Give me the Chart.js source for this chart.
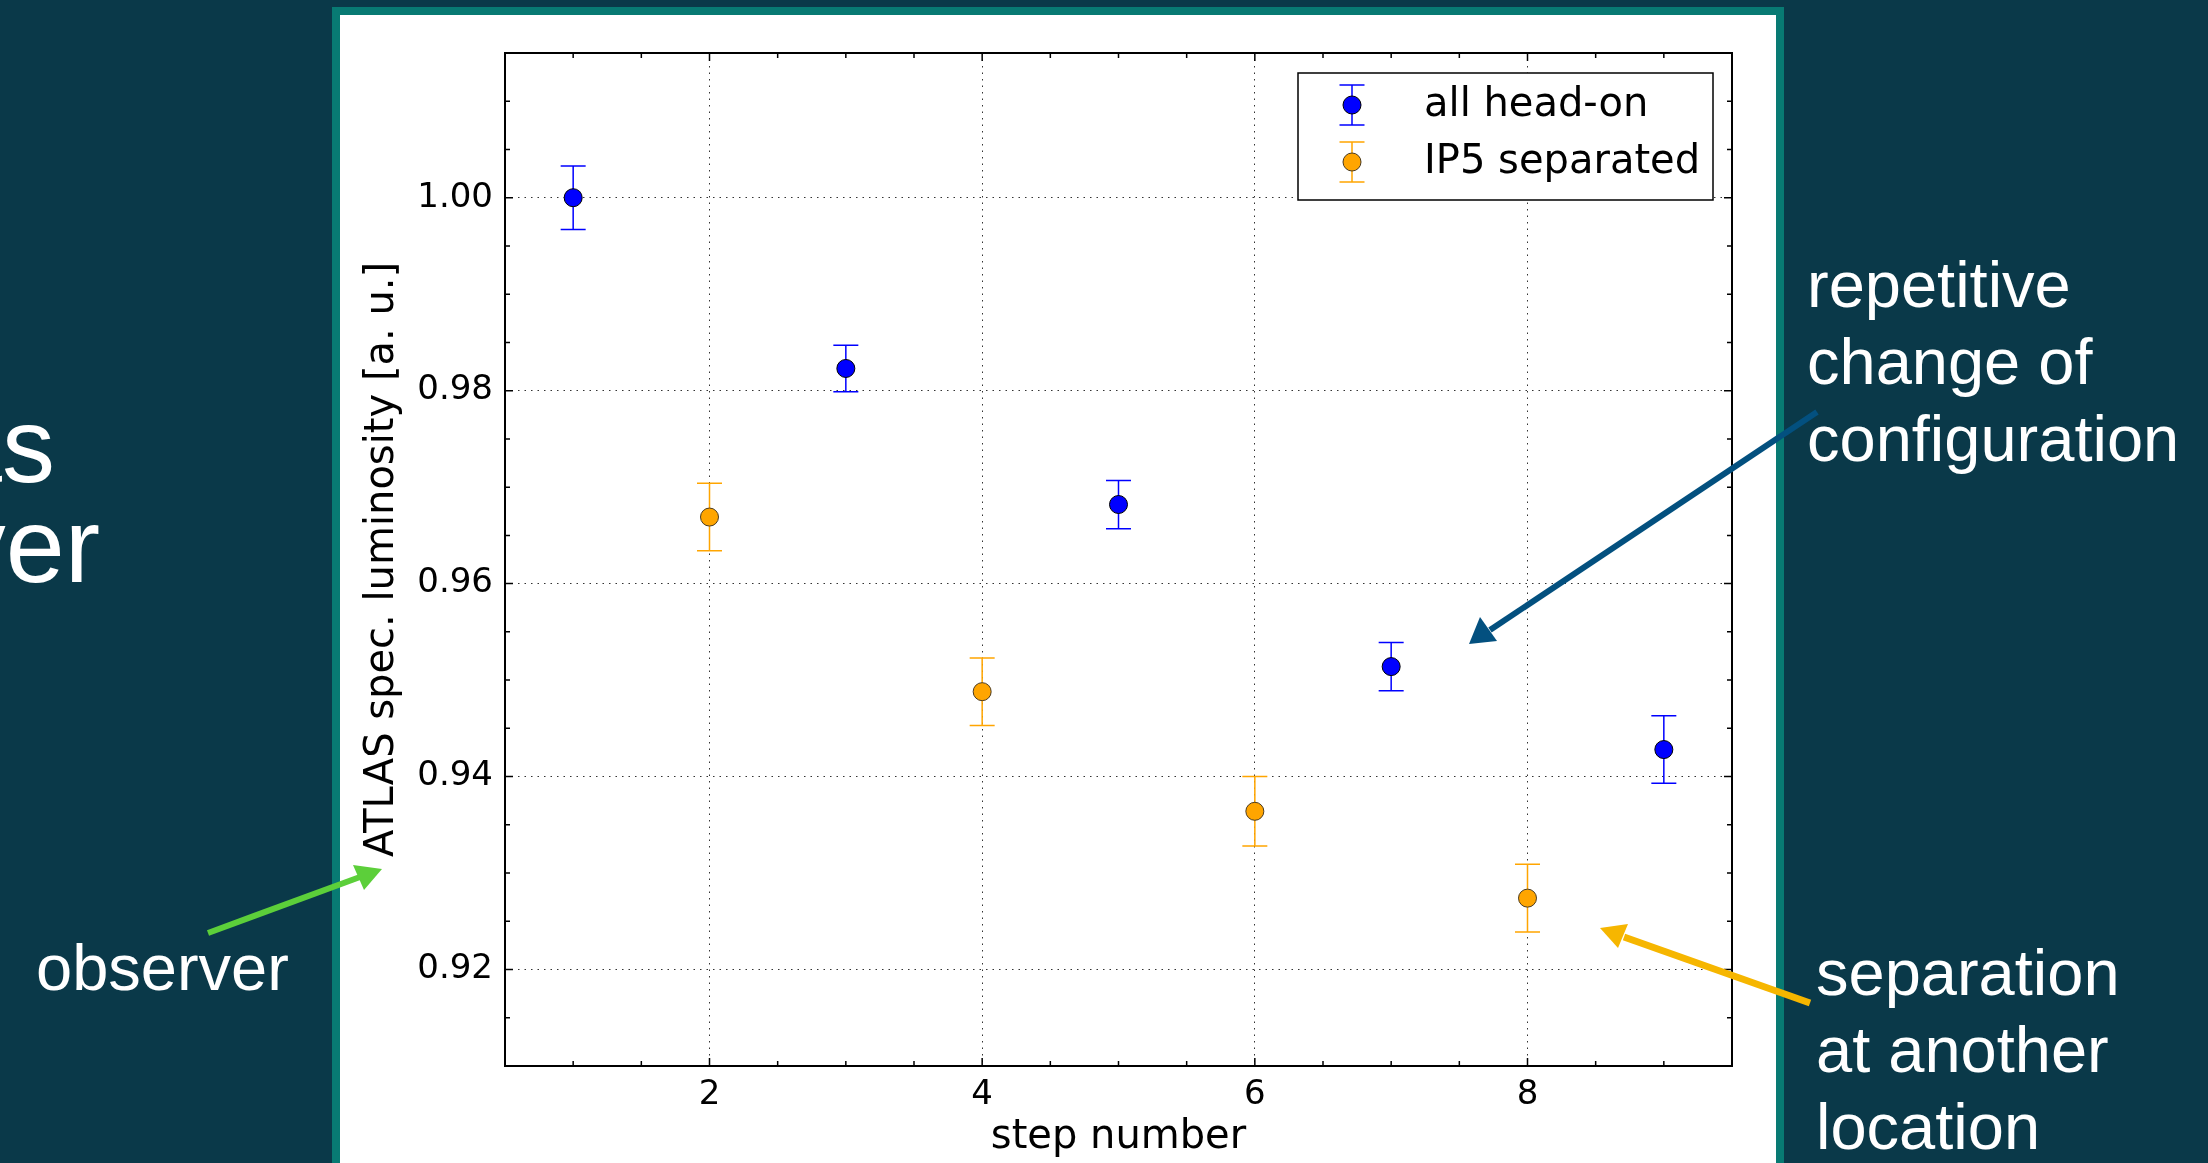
<!DOCTYPE html>
<html>
<head>
<meta charset="utf-8">
<script src="https://cdn.jsdelivr.net/npm/chart.js@4.4.1/dist/chart.umd.min.js"></script>
<style>
  html, body { margin: 0; padding: 0; }
  body { width: 2208px; height: 1163px; background: #0a3949; position: relative; overflow: hidden; font-family: "Liberation Sans", Arial, sans-serif; color: #fff; }
  #panel { position: absolute; left: 332px; top: 7px; width: 1436px; height: 1200px; border: 8px solid #087a73; background: #fff; }
  #grafico { position: absolute; left: 340px; top: 15px; }
  .nota { position: absolute; font-size: 65px; line-height: 77px; white-space: nowrap; }
  .grande { position: absolute; font-size: 106px; line-height: 100px; white-space: nowrap; text-align: right; }
  svg { position: absolute; left: 0; top: 0; }
</style>
</head>
<body>
<div class="grande" style="right: 2153px; top: 395px;">as</div>
<div class="grande" style="right: 2108px; top: 495px;">observer</div>
<div class="nota" style="left: 36px; top: 929px;">observer</div>
<div class="nota" style="left: 1807px; top: 246px;">repetitive<br>change of<br>configuration</div>
<div class="nota" style="left: 1816px; top: 934px;">separation<br>at another<br>location</div>
<div id="panel"></div>
<canvas id="grafico" width="1436" height="1148"></canvas>
<svg width="2208" height="1163">
  <line x1="1817" y1="412" x2="1490" y2="630" stroke="#03507f" stroke-width="6"/>
  <polygon points="1469,644 1480,617 1497,641" fill="#03507f"/>
  <line x1="1810" y1="1003" x2="1624" y2="937" stroke="#f6b600" stroke-width="7"/>
  <polygon points="1600,928 1628,924 1618,948" fill="#f6b600"/>
  <line x1="208" y1="933" x2="360" y2="877" stroke="#5ccf3a" stroke-width="6"/>
  <polygon points="382,869 353,865 364,890" fill="#5ccf3a"/>
</svg>
<script>
// datos
const nombresSeries = ['all head-on', 'IP5 separated'];
const pasosHeadOn = [1, 3, 5, 7, 9];
const lumiHeadOn = [1.0000, 0.9823, 0.9682, 0.9514, 0.9428];
const errHeadOn = [0.0033, 0.0024, 0.0025, 0.0025, 0.0035];
const pasosSeparado = [2, 4, 6, 8];
const lumiSeparado = [0.9669, 0.9488, 0.9364, 0.9274];
const errSeparado = [0.0035, 0.0035, 0.0036, 0.0035];
const ticksX = [2, 4, 6, 8];
const ticksY = [0.92, 0.94, 0.96, 0.98, 1.00];

const fuenteTicks = { family: 'DejaVu Sans', size: 34 };
const fuenteTitulo = { family: 'DejaVu Sans', size: 40 };
const colores = ['#0000ff', '#ffa500'];
const bordes = ['#000000', '#4a3a20'];

// barras de error debajo de los marcadores
const barrasError = {
  id: 'barrasError',
  beforeDatasetsDraw(chart) {
    const ctx = chart.ctx;
    const ys = chart.scales.y, xs = chart.scales.x;
    const errores = [errHeadOn, errSeparado];
    chart.data.datasets.forEach((ds, d) => {
      ctx.save();
      ctx.strokeStyle = colores[d];
      ctx.lineWidth = 1.5;
      ds.data.forEach((p, i) => {
        const x = xs.getPixelForValue(p.x);
        const y1 = ys.getPixelForValue(p.y + errores[d][i]);
        const y2 = ys.getPixelForValue(p.y - errores[d][i]);
        ctx.beginPath();
        ctx.moveTo(x, y1); ctx.lineTo(x, y2);
        ctx.moveTo(x - 12.5, y1); ctx.lineTo(x + 12.5, y1);
        ctx.moveTo(x - 12.5, y2); ctx.lineTo(x + 12.5, y2);
        ctx.stroke();
      });
      ctx.restore();
    });
  }
};

// marco y ticks hacia adentro
const marco = {
  id: 'marco',
  afterDraw(chart) {
    const { ctx, chartArea: a } = chart;
    const xs = chart.scales.x, ys = chart.scales.y;
    ctx.save();
    ctx.strokeStyle = '#000';
    ctx.lineWidth = 1.5;
    ctx.beginPath();
    for (let v = 0.5; v <= 9.5001; v += 0.5) {
      const x = xs.getPixelForValue(v);
      const largo = Number.isInteger(v) && v % 2 === 0 ? 8 : 5;
      ctx.moveTo(x, a.bottom); ctx.lineTo(x, a.bottom - largo);
      ctx.moveTo(x, a.top); ctx.lineTo(x, a.top + largo);
    }
    for (let k = 182; k <= 203; k++) {
      const v = k * 0.005;
      const y = ys.getPixelForValue(v);
      const largo = k % 4 === 0 ? 8 : 5;
      ctx.moveTo(a.left, y); ctx.lineTo(a.left + largo, y);
      ctx.moveTo(a.right, y); ctx.lineTo(a.right - largo, y);
    }
    ctx.stroke();
    ctx.lineWidth = 2;
    ctx.strokeRect(a.left, a.top, a.right - a.left, a.bottom - a.top);
    ctx.restore();
  }
};

// leyenda con barras de error
const leyenda = {
  id: 'leyenda',
  afterDraw(chart) {
    const ctx = chart.ctx;
    const izq = 958, arriba = 58, ancho = 415, alto = 127;
    ctx.save();
    ctx.fillStyle = '#fff';
    ctx.fillRect(izq, arriba, ancho, alto);
    ctx.strokeStyle = '#000';
    ctx.lineWidth = 1.5;
    ctx.strokeRect(izq, arriba, ancho, alto);
    nombresSeries.forEach((nombre, i) => {
      const cy = arriba + 32 + i * 57;
      const cx = izq + 54;
      ctx.strokeStyle = colores[i];
      ctx.lineWidth = 1.5;
      ctx.beginPath();
      ctx.moveTo(cx, cy - 20); ctx.lineTo(cx, cy + 20);
      ctx.moveTo(cx - 12.5, cy - 20); ctx.lineTo(cx + 12.5, cy - 20);
      ctx.moveTo(cx - 12.5, cy + 20); ctx.lineTo(cx + 12.5, cy + 20);
      ctx.stroke();
      ctx.beginPath();
      ctx.arc(cx, cy, 9, 0, Math.PI * 2);
      ctx.fillStyle = colores[i];
      ctx.fill();
      ctx.strokeStyle = bordes[i];
      ctx.lineWidth = 1;
      ctx.stroke();
      ctx.fillStyle = '#000';
      ctx.font = '40px "DejaVu Sans"';
      ctx.textBaseline = 'middle';
      ctx.fillText(nombre, izq + 126, cy + 1);
    });
    ctx.restore();
  }
};

const ctx = document.getElementById('grafico').getContext('2d');
new Chart(ctx, {
  type: 'scatter',
  data: {
    datasets: [
      {
        label: nombresSeries[0],
        data: pasosHeadOn.map((x, i) => ({ x: x, y: lumiHeadOn[i] })),
        backgroundColor: colores[0],
        borderColor: bordes[0],
        borderWidth: 1,
        pointRadius: 9
      },
      {
        label: nombresSeries[1],
        data: pasosSeparado.map((x, i) => ({ x: x, y: lumiSeparado[i] })),
        backgroundColor: colores[1],
        borderColor: bordes[1],
        borderWidth: 1,
        pointRadius: 9
      }
    ]
  },
  options: {
    responsive: false,
    animation: false,
    layout: { padding: { left: 0, top: 38, right: 44, bottom: 0 } },
    plugins: { legend: { display: false }, tooltip: { enabled: false } },
    scales: {
      x: {
        type: 'linear',
        min: 0.5,
        max: 9.5,
        z: 1,
        afterBuildTicks: s => { s.ticks = ticksX.map(v => ({ value: v })); },
        afterFit: s => { s.height = 97; },
        grid: { color: 'rgba(0,0,0,0.8)', lineWidth: 1, drawTicks: false },
        border: { display: false, dash: [1.5, 5] },
        ticks: { font: fuenteTicks, color: '#000', padding: 9 },
        title: { display: true, text: 'step number', font: fuenteTitulo, color: '#000', padding: { top: 0, bottom: 1 } }
      },
      y: {
        type: 'linear',
        min: 0.91,
        max: 1.015,
        afterBuildTicks: s => { s.ticks = ticksY.map(v => ({ value: v })); },
        afterFit: s => { s.width = 165; },
        grid: { color: 'rgba(0,0,0,0.8)', lineWidth: 1, drawTicks: false },
        border: { display: false, dash: [1.5, 5] },
        ticks: { font: fuenteTicks, color: '#000', padding: 12, callback: v => v.toFixed(2) },
        title: { display: true, text: 'ATLAS spec. luminosity [a. u.]', font: fuenteTitulo, color: '#000', padding: { top: 19, bottom: 0 } }
      }
    }
  },
  plugins: [barrasError, marco, leyenda]
});
</script>
</body>
</html>
